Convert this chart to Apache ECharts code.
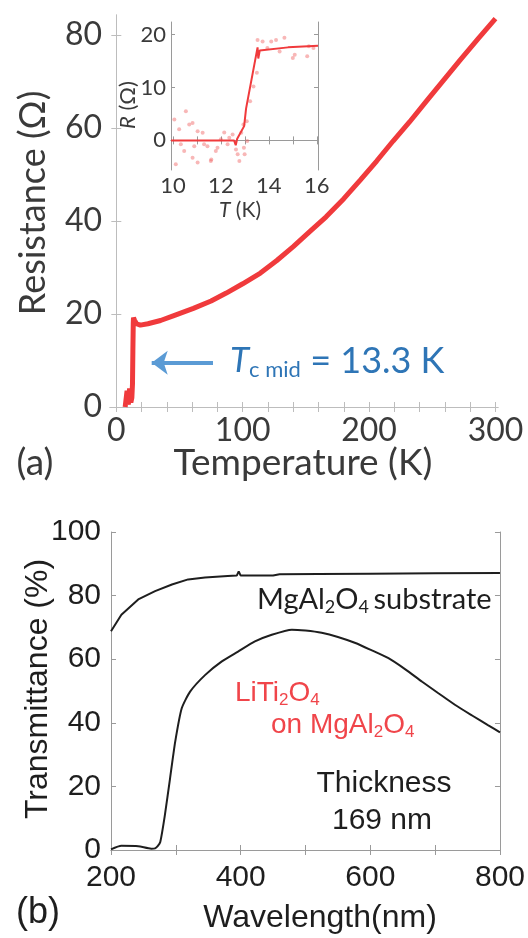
<!DOCTYPE html>
<html>
<head>
<meta charset="utf-8">
<script src="https://cdn.jsdelivr.net/npm/echarts@6/dist/echarts.min.js"></script>
<style>
  html, body { margin: 0; padding: 0; background: #fff; }
  #chart { width: 528px; height: 938px; }
</style>
</head>
<body>
<div id="chart"></div>
<script>
// (a) resistance vs temperature
const mainT = [7, 8.5, 9.5, 10.5, 11.5, 12.3, 12.8, 13.1, 13.4, 13.6, 14.5, 16, 19, 25, 35, 45, 61, 75, 87, 100, 114, 127, 140, 153, 166, 180, 193, 206, 219, 232, 246, 259, 272, 286, 300];
const mainR = [0, 3.5, 0.5, 4, 1, 2, 5, 12, 18, 19.2, 18.6, 17.9, 17.6, 17.9, 18.6, 19.6, 21.2, 22.8, 24.5, 26.5, 28.8, 31.5, 34.5, 37.7, 40.9, 44.8, 48.8, 52.9, 57.2, 61.3, 66.0, 70.3, 74.6, 79.1, 83.5];
const mainXTicks = [0, 100, 200, 300];
const mainYTicks = [0, 20, 40, 60, 80];

// inset: fitted line + raw points
const insetT = [9.92, 12.55, 12.62, 12.68, 12.97, 13.05, 13.53, 13.56, 13.62, 14.8, 16.05];
const insetR = [0, 0, -0.9, 0.3, 2.7, 6, 17.6, 15.5, 17.0, 17.6, 17.9];
const dotT = [10.06, 10.12, 10.26, 10.33, 10.47, 10.54, 10.68, 10.82, 10.82, 10.89, 11.03, 11.03, 11.24, 11.3, 11.44, 11.58, 11.6, 11.79, 11.86, 12.0, 12.14, 12.28, 12.35, 12.49, 12.63, 12.7, 12.77, 12.85, 12.94, 12.96, 12.99, 13.08, 13.1, 13.22, 13.36, 13.5, 13.53, 13.74, 13.94, 14.1, 14.3, 14.45, 14.65, 15.0, 15.08, 15.6, 15.67, 15.86];
const dotR = [3.96, -4.5, 2.1, -0.75, -2, 5.5, 3, 3.3, -3.3, -1.1, 1.75, -4.2, 1.45, -0.75, -1.1, -3.9, -3.6, -2, -1.4, 0.2, 1.5, -0.75, 0.5, 1.1, -1.7, -2.6, -3.9, 1.45, 3, -1.4, -2.6, 3.6, -0.1, 7.4, 10.2, 12.8, 19, 18.7, 17.5, 18.7, 19, 16.8, 19.4, 15.6, 16.2, 15.9, 17.8, 17.5];
const insetXTicks = [10, 12, 14, 16];
const insetYTicks = [0, 10, 20];

// (b) transmittance
const subNm = [200, 216, 242, 268, 294, 319, 345, 347, 380, 394, 397, 400, 450, 460, 520, 600, 700, 800];
const subT = [68.8, 74, 78.8, 81.4, 83.5, 85.1, 85.7, 86.2, 86.2, 86.3, 87.6, 86.3, 86.3, 86.7, 86.8, 86.9, 87.0, 87.1];
const filmNm = [200, 216, 242, 262, 268, 272, 276, 283, 291, 299, 309, 322, 345, 371, 396, 422, 448, 479, 500, 525, 550, 577, 600, 628, 654, 680, 705, 731, 757, 782, 800];
const filmT = [0.2, 1.3, 1.2, 0.4, 0.5, 1.2, 2.5, 10.8, 22.4, 34, 44.5, 49.8, 55, 59.3, 62.4, 65.6, 67.7, 69.3, 69.0, 68.3, 67.0, 65.1, 63.0, 60.3, 56.8, 52.9, 49.3, 45.6, 42.3, 39.2, 37];

const pairs = (xs, ys) => xs.map((x, i) => [x, ys[i]]);
const range = (a, b, s) => { const r = []; for (let v = a; v <= b + 1e-9; v += s) r.push(+v.toFixed(3)); return r; };

const FA = 'Lato';
const FB = 'Liberation Sans';
const red = '#f03a3c';
const boxA = '#bdbdbd';
const boxB = '#9a9a9a';

function axisPair(grid, opts) {
  // main axis with labels + mirror axis with ticks only
  const base = {
    gridIndex: grid, type: 'value', min: opts.min, max: opts.max,
    splitLine: { show: false },
    axisLine: { show: true, lineStyle: { color: opts.color, width: 1 } },
    axisTick: { show: true, inside: true, length: opts.tickLen || 5, customValues: opts.ticks, lineStyle: { color: opts.color } }
  };
  return [
    Object.assign({}, base, {
      position: opts.pos[0],
      axisLabel: { customValues: opts.labels, fontFamily: opts.font, fontSize: opts.fontSize, color: opts.labelColor, margin: opts.margin }
    }),
    Object.assign({}, base, { position: opts.pos[1], axisLabel: { show: false } })
  ];
}

const xAxes = [].concat(
  axisPair(0, { min: -5, max: 302, ticks: range(0, 300, 20), labels: mainXTicks, pos: ['bottom', 'top'], color: boxA, font: FA, fontSize: 32, labelColor: '#3a3a3a', margin: 8 }),
  axisPair(1, { min: 9.92, max: 16.05, ticks: range(10, 16, 1), labels: insetXTicks, pos: ['bottom', 'top'], color: boxB, font: FA, fontSize: 22, labelColor: '#3a3a3a', margin: 5, tickLen: 4 }),
  axisPair(2, { min: 200, max: 800, ticks: range(200, 800, 100), labels: [200, 400, 600, 800], pos: ['bottom', 'top'], color: boxB, font: FB, fontSize: 30, labelColor: '#1e1e1e', margin: 13 })
);
const yAxes = [].concat(
  axisPair(0, { min: 0, max: 84.3, ticks: mainYTicks, labels: mainYTicks, pos: ['left', 'right'], color: boxA, font: FA, fontSize: 32, labelColor: '#3a3a3a', margin: 8 }),
  axisPair(1, { min: -5.6, max: 22.4, ticks: insetYTicks, labels: insetYTicks, pos: ['left', 'right'], color: boxB, font: FA, fontSize: 22, labelColor: '#3a3a3a', margin: 5, tickLen: 4 }),
  axisPair(2, { min: 0, max: 100, ticks: range(0, 100, 20), labels: range(0, 100, 20), pos: ['left', 'right'], color: boxB, font: FB, fontSize: 30, labelColor: '#1e1e1e', margin: 10 })
);

const txt = (x, y, text, font, size, color, rot) => ({
  type: 'text', x: x, y: y, z: 100, rotation: rot || 0,
  style: { text: text, fontFamily: font, fontSize: size, fill: color, align: 'center', verticalAlign: 'middle' }
});

const chart = echarts.init(document.getElementById('chart'), null, { renderer: 'canvas' });
chart.setOption({
  animation: false,
  backgroundColor: '#fff',
  grid: [
    { left: 110, top: 15, width: 388, height: 392 },
    { left: 171, top: 22, width: 147, height: 148, show: true, backgroundColor: '#fff', borderWidth: 0 },
    { left: 111, top: 532, width: 390, height: 318 }
  ],
  xAxis: xAxes,
  yAxis: yAxes,
  series: [
    {
      type: 'line', xAxisIndex: 0, yAxisIndex: 0, data: pairs(mainT, mainR),
      showSymbol: false, lineStyle: { color: red, width: 5 }, z: 3,
      markLine: {
        silent: true, symbol: ['none', 'arrow'], symbolSize: [18, 16],
        label: { show: false },
        lineStyle: { color: '#5b9bd5', width: 4, type: 'solid' },
        data: [[{ coord: [76.5, 9.5] }, { coord: [28, 9.5] }]]
      }
    },
    {
      type: 'scatter', xAxisIndex: 2, yAxisIndex: 2, data: pairs(dotT, dotR),
      symbolSize: 4, itemStyle: { color: 'rgba(240,90,90,0.55)' }
    },
    {
      type: 'line', xAxisIndex: 2, yAxisIndex: 2, data: pairs(insetT, insetR),
      showSymbol: false, lineStyle: { color: red, width: 2 }
    },
    {
      type: 'line', xAxisIndex: 4, yAxisIndex: 4, data: pairs(subNm, subT),
      showSymbol: false, lineStyle: { color: '#1e1e1e', width: 2 }
    },
    {
      type: 'line', xAxisIndex: 4, yAxisIndex: 4, data: pairs(filmNm, filmT),
      showSymbol: false, smooth: 0.2, lineStyle: { color: '#1e1e1e', width: 2 }
    }
  ],
  graphic: [
    // panel (a)
    txt(33, 203, 'Resistance (Ω)', FA, 36, '#3a3a3a', Math.PI / 2),
    txt(303, 463, 'Temperature (K)', FA, 37, '#3a3a3a'),
    txt(35, 463, '(a)', FA, 37, '#3a3a3a'),
    {
      type: 'text', x: 230, y: 361, z: 100,
      style: {
        text: '{i|T}{s|c mid}{m| = 13.3 K}', align: 'left', verticalAlign: 'middle', fill: '#2e75b6',
        rich: {
          i: { fontFamily: FA, fontSize: 35, fontStyle: 'italic', lineHeight: 40, fill: '#2e75b6' },
          s: { fontFamily: FA, fontSize: 22, lineHeight: 12, verticalAlign: 'bottom', fill: '#2e75b6' },
          m: { fontFamily: FA, fontSize: 36, lineHeight: 40, fill: '#2e75b6' }
        }
      }
    },
    // inset titles
    {
      type: 'text', x: 128, y: 105, z: 100, rotation: Math.PI / 2,
      style: {
        text: '{i|R}{n| (Ω)}', align: 'center', verticalAlign: 'middle',
        rich: {
          i: { fontFamily: FA, fontSize: 22, fontStyle: 'italic', fill: '#3a3a3a' },
          n: { fontFamily: FA, fontSize: 22, fill: '#3a3a3a' }
        }
      }
    },
    {
      type: 'text', x: 240, y: 210, z: 100,
      style: {
        text: '{i|T}{n| (K)}', align: 'center', verticalAlign: 'middle',
        rich: {
          i: { fontFamily: FA, fontSize: 21, fontStyle: 'italic', fill: '#3a3a3a' },
          n: { fontFamily: FA, fontSize: 21, fill: '#3a3a3a' }
        }
      }
    },
    // panel (b)
    txt(38, 689, 'Transmittance (%)', FB, 32, '#1e1e1e', Math.PI / 2),
    txt(320, 918, 'Wavelength(nm)', FB, 32, '#1e1e1e'),
    txt(38, 913, '(b)', FB, 36, '#1e1e1e'),
    {
      type: 'text', x: 257, y: 600, z: 100,
      style: {
        text: '{m|MgAl}{s|2}{m|O}{s|4 }{m|substrate}', align: 'left', verticalAlign: 'middle',
        rich: {
          m: { fontFamily: FA, fontSize: 29, lineHeight: 32, fill: '#1e1e1e' },
          s: { fontFamily: FA, fontSize: 18, lineHeight: 12, verticalAlign: 'bottom', fill: '#1e1e1e' }
        }
      }
    },
    {
      type: 'text', x: 235, y: 693, z: 100,
      style: {
        text: '{m|LiTi}{s|2}{m|O}{s|4}', align: 'left', verticalAlign: 'middle',
        rich: {
          m: { fontFamily: FB, fontSize: 28, lineHeight: 32, fill: '#f0454a' },
          s: { fontFamily: FB, fontSize: 17, lineHeight: 10, verticalAlign: 'bottom', fill: '#f0454a' }
        }
      }
    },
    {
      type: 'text', x: 271, y: 725, z: 100,
      style: {
        text: '{m|on MgAl}{s|2}{m|O}{s|4}', align: 'left', verticalAlign: 'middle',
        rich: {
          m: { fontFamily: FB, fontSize: 28, lineHeight: 32, fill: '#f0454a' },
          s: { fontFamily: FB, fontSize: 17, lineHeight: 10, verticalAlign: 'bottom', fill: '#f0454a' }
        }
      }
    },
    txt(384, 784, 'Thickness', FB, 30, '#1e1e1e'),
    txt(382, 821, '169 nm', FB, 30, '#1e1e1e')
  ]
});
</script>
</body>
</html>
